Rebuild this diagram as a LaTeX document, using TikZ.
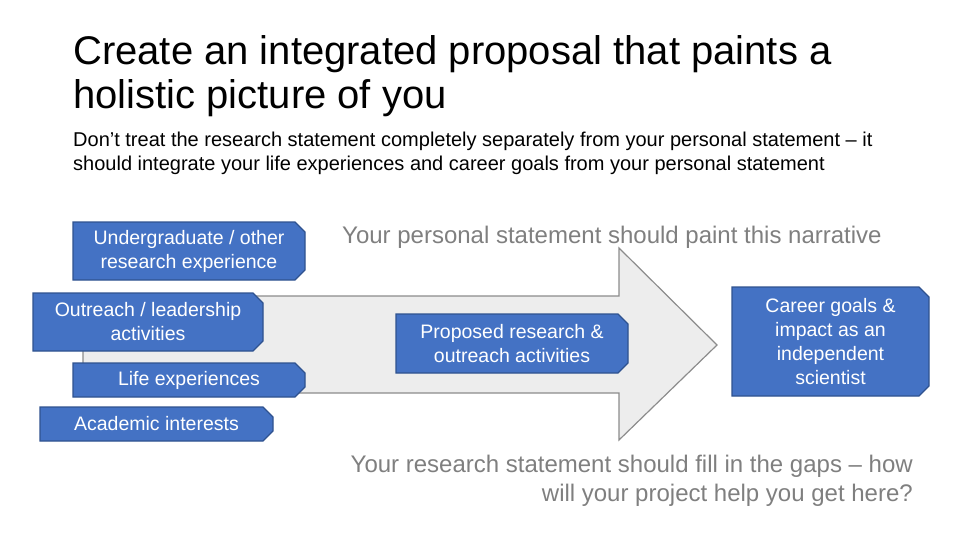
\documentclass[tikz,border=0pt]{standalone}
\usepackage{fontspec}
\setmainfont{Liberation Sans}
\usetikzlibrary{shapes.misc}

\definecolor{boxblue}{HTML}{4472C4}
\definecolor{boxline}{HTML}{2F528F}
\definecolor{arrowfill}{HTML}{EDEDED}
\definecolor{arrowline}{HTML}{8C8C8C}
\definecolor{notegray}{HTML}{7F7F7F}

\tikzset{
  snipbox/.style={chamfered rectangle,
    chamfered rectangle corners={north east,south east},
    chamfered rectangle xsep=5pt, chamfered rectangle ysep=5pt,
    draw=boxline, line width=1.2pt, fill=boxblue, text=white,
    align=center, inner sep=0pt, font=\fontsize{19.5}{24}\selectfont},
  note/.style={inner sep=0pt, text=notegray, font=\fontsize{24}{29}\selectfont}
}

\begin{document}
\begin{tikzpicture}[x=1pt,y=-1pt]
  \useasboundingbox (0,0) rectangle (960,540);

  % heading
  \node[anchor=north west, inner sep=0pt, align=left, font=\fontsize{40}{44}\selectfont] (title) at (73,35)
    {Create an integrated proposal that paints a\\holistic picture of you};
  \node[anchor=north west, inner sep=0pt, align=left, font=\fontsize{20}{24}\selectfont] (intro) at (73,132)
    {Don’t treat the research statement completely separately from your personal statement – it\\should integrate your life experiences and career goals from your personal statement};

  % big arrow
  \draw[draw=arrowline, fill=arrowfill, line width=1.2pt]
    (83,296) -- (619,296) -- (619,248) -- (717,345) -- (619,440) -- (619,393) -- (83,393) -- cycle;

  % inputs
  \node[snipbox, minimum width=232pt, minimum height=58pt] (ugrad) at (189,251) {Undergraduate / other\\research experience};
  \node[snipbox, minimum width=230pt, minimum height=58pt] (outreach) at (148,322) {Outreach / leadership\\activities};
  \node[snipbox, minimum width=232pt, minimum height=34pt] (life) at (189,380) {Life experiences};
  \node[snipbox, minimum width=233pt, minimum height=34pt] (academic) at (156.5,424) {Academic interests};

  % middle and goal
  \node[snipbox, minimum width=232pt, minimum height=59pt] (proposed) at (512,343.5) {Proposed research \&\\outreach activities};
  \node[snipbox, minimum width=197pt, minimum height=109pt] (career) at (830.5,341.5) {Career goals \&\\impact as an\\independent\\scientist};

  % notes
  \node[note, anchor=base west] (personal) at (342,243) {Your personal statement should paint this narrative};
  \node[note, anchor=north east, align=right] (research) at (913,455)
    {Your research statement should fill in the gaps – how\\will your project help you get here?};
\end{tikzpicture}
\end{document}
